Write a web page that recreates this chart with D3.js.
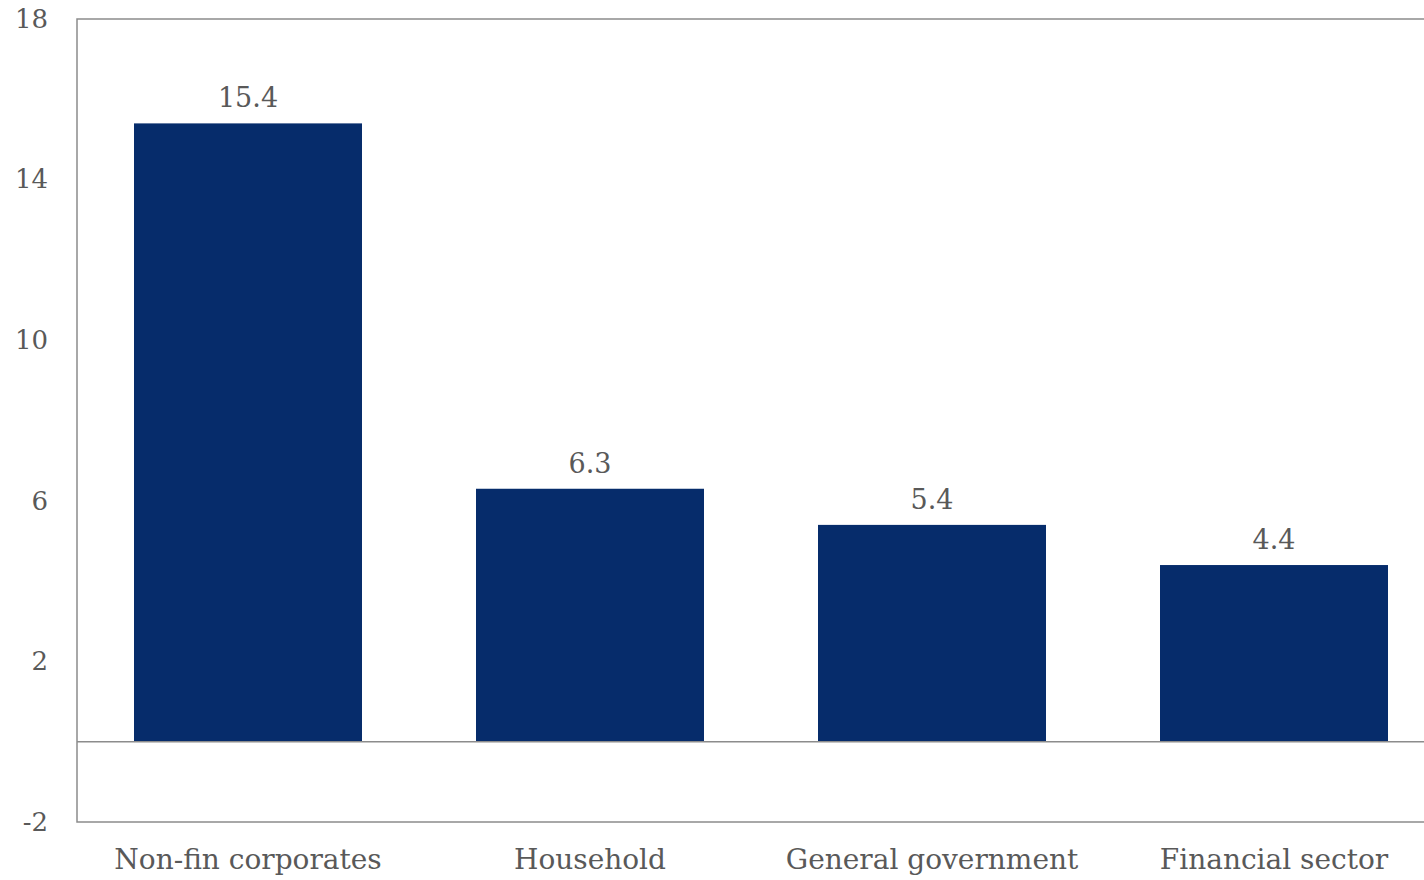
<!DOCTYPE html>
<html>
<head>
<meta charset="utf-8">
<script src="https://cdn.jsdelivr.net/npm/d3@7"></script>
<style>
  html, body { margin: 0; padding: 0; background: #fff; overflow: hidden; }
  svg { display: block; }
  text { font-family: "DejaVu Serif", "Liberation Serif", serif; fill: #595959; }
</style>
</head>
<body>
<svg id="chart" width="1424" height="880"></svg>
<script>
// Credit growth by sector
const categories = ["Non-fin corporates", "Household", "General government", "Financial sector"];
const values = [15.4, 6.3, 5.4, 4.4];
const yTicks = [-2, 2, 6, 10, 14, 18];

const svg = d3.select("#chart");
const plotLeft = 77, plotTop = 19, plotBottom = 822, step = 342;

const x = d3.scaleBand()
  .domain(categories)
  .range([plotLeft, plotLeft + step * categories.length])
  .paddingInner(1 / 3)
  .paddingOuter(1 / 6);

const y = d3.scaleLinear().domain([-2, 18]).range([plotBottom, plotTop]);

// frame
svg.append("path")
  .attr("d", `M1430,${plotTop}H${plotLeft}V${plotBottom}H1430`)
  .attr("fill", "none")
  .attr("stroke", "#8c8c8c")
  .attr("stroke-width", 1.5);

// bars
svg.selectAll("rect.bar")
  .data(values)
  .join("rect")
  .attr("class", "bar")
  .attr("x", (d, i) => x(categories[i]))
  .attr("width", x.bandwidth())
  .attr("y", d => y(Math.max(0, d)))
  .attr("height", d => Math.abs(y(d) - y(0)))
  .attr("fill", "#062c6b");

// zero line
svg.append("line")
  .attr("x1", plotLeft).attr("x2", 1430)
  .attr("y1", y(0)).attr("y2", y(0))
  .attr("stroke", "#8c8c8c")
  .attr("stroke-width", 1.5);

// y-axis labels (plain hyphen for negatives)
const yAxis = d3.axisLeft(y)
  .tickValues(yTicks)
  .tickFormat(d => String(d))
  .tickSize(0)
  .tickPadding(0);
const gy = svg.append("g").attr("transform", "translate(48,0)").call(yAxis);
gy.select(".domain").remove();
gy.attr("font-family", null).attr("font-size", null);
gy.selectAll("text")
  .attr("font-size", 26)
  .attr("fill", null);

// x-axis labels
const xAxis = d3.axisBottom(x).tickSize(0).tickPadding(0);
const gx = svg.append("g").attr("transform", `translate(0,${plotBottom + 27})`).call(xAxis);
gx.select(".domain").remove();
gx.attr("font-family", null).attr("font-size", null);
gx.selectAll("text")
  .attr("font-size", 28)
  .attr("fill", null)
  .attr("dy", "0.71em");

// value labels
svg.selectAll("text.val")
  .data(values)
  .join("text")
  .attr("class", "val")
  .attr("x", (d, i) => x(categories[i]) + x.bandwidth() / 2)
  .attr("y", d => y(d) - 16)
  .attr("text-anchor", "middle")
  .attr("font-size", 27)
  .text(d => d.toFixed(1));
</script>
</body>
</html>
